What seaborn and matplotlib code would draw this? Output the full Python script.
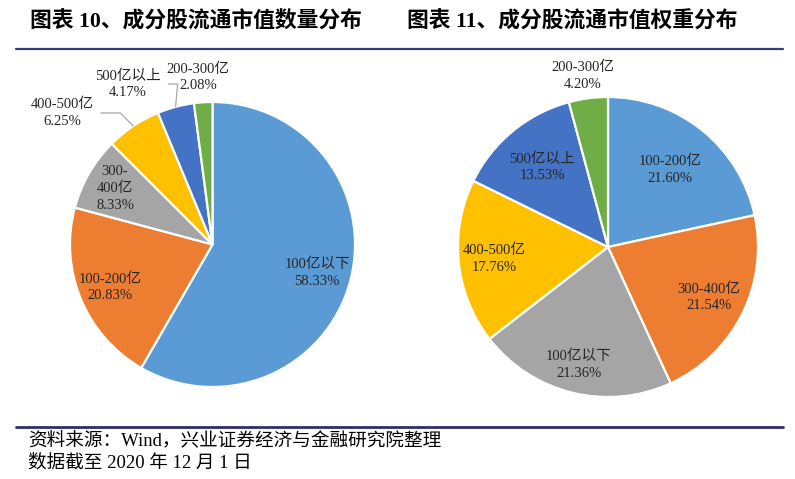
import matplotlib
matplotlib.use("Agg")
import matplotlib.pyplot as plt
import seaborn as sns
import numpy as np
from matplotlib.lines import Line2D

# 图表10：成分股流通市值数量分布（从12点起顺时针）
count_labels = ["100亿以下", "100-200亿", "300-\n400亿", "400-500亿", "500亿以上", "200-300亿"]
count_share = [58.33, 20.83, 8.33, 6.25, 4.17, 2.08]

# 图表11：成分股流通市值权重分布
weight_labels = ["100-200亿", "300-400亿", "100亿以下", "400-500亿", "500亿以上", "200-300亿"]
weight_share = [21.60, 21.54, 21.36, 17.76, 13.53, 4.20]

office = ["#5B9BD5", "#ED7D31", "#A5A5A5", "#FFC000", "#4472C4", "#70AD47"]

sns.set_theme(style="white")
plt.rcParams["font.family"] = ["Liberation Serif", "Noto Sans CJK SC", "DejaVu Sans"]

W, H = 795, 479
fig = plt.figure(figsize=(W / 100, H / 100), dpi=100)

LABEL_FONT = ["Liberation Serif", "Noto Sans CJK SC"]
TXT = "#262626"
LEADER = "#A6A6A6"
LFS = 10.5


def px_axes(cx, cy, r):
    # axes box so that a radius-1 pie lands on pixel centre (cx, cy), radius r
    return fig.add_axes([(cx - r) / W, (H - cy - r) / H, 2 * r / W, 2 * r / H])


def draw_pie(ax, values, labels, colors, inside_r, outside_pos, leader_angle):
    wedges, _ = ax.pie(values, colors=colors, startangle=90, counterclock=False,
                       radius=1, wedgeprops=dict(edgecolor="white", linewidth=1.6))
    ax.set_xlim(-1, 1)
    ax.set_ylim(-1, 1)
    ax.set_aspect("equal")
    ax.axis("off")
    for i, w in enumerate(wedges):
        mid = np.deg2rad((w.theta1 + w.theta2) / 2)
        txt = f"{labels[i]}\n{values[i]:.2f}%"
        if i in outside_pos:
            tx, ty = outside_pos[i]
            if i in leader_angle:
                ax.annotate(txt, xy=(np.cos(mid), np.sin(mid)), xytext=(tx, ty),
                            ha="center", va="center", fontsize=LFS, color=TXT,
                            family=LABEL_FONT, linespacing=1.35, annotation_clip=False,
                            arrowprops=dict(arrowstyle="-", color=LEADER, lw=0.9,
                                            shrinkA=3, shrinkB=0,
                                            connectionstyle=f"angle,angleA=0,angleB={leader_angle[i]},rad=0"))
            else:
                ax.text(tx, ty, txt, ha="center", va="center", fontsize=LFS, color=TXT,
                        family=LABEL_FONT, linespacing=1.35)
        else:
            d = inside_r[i]
            ax.text(d * np.cos(mid), d * np.sin(mid), txt, ha="center", va="center",
                    fontsize=LFS, color=TXT, family=LABEL_FONT, linespacing=1.35)


ax1 = px_axes(212.5, 244.5, 142.5)
draw_pie(ax1, count_share, count_labels, office,
         inside_r={0: 0.76, 1: 0.78, 2: 0.79},
         outside_pos={3: (-1.056, 0.923), 4: (-0.593, 1.126), 5: (-0.10, 1.175)},
         leader_angle={3: 135, 4: 85})

ax2 = px_axes(608, 247, 150)
draw_pie(ax2, weight_share, weight_labels, office,
         inside_r={0: 0.66, 1: 0.75, 2: 0.81, 3: 0.76, 4: 0.69},
         outside_pos={5: (-0.167, 1.14)},
         leader_angle={})

# 标题
title_font = ["Liberation Serif", "Noto Sans CJK SC"]
fig.text(30 / W, 1 - 22 / H, "图表 10、成分股流通市值数量分布", ha="left", va="center",
         fontsize=15.7, fontweight="bold", family=title_font, color="black")
fig.text(407 / W, 1 - 22 / H, "图表 11、成分股流通市值权重分布", ha="left", va="center",
         fontsize=15.7, fontweight="bold", family=title_font, color="black")

# 分隔线
fig.add_artist(Line2D([16 / W, 783 / W], [1 - 49 / H, 1 - 49 / H], color="#3B3B7A",
                      lw=1.6, transform=fig.transFigure))
fig.add_artist(Line2D([16 / W, 783 / W], [1 - 427 / H, 1 - 427 / H], color="#2E2E6B",
                      lw=2.0, transform=fig.transFigure))

# 资料来源
fig.text(28 / W, 1 - 440 / H, "资料来源：Wind，兴业证券经济与金融研究院整理", ha="left",
         va="center", fontsize=13.4, family=title_font, color="black")
fig.text(28 / W, 1 - 463 / H, "数据截至 2020 年 12 月 1 日", ha="left",
         va="center", fontsize=13.4, family=title_font, color="black")

plt.savefig("out.png", dpi=100)
plt.close()
